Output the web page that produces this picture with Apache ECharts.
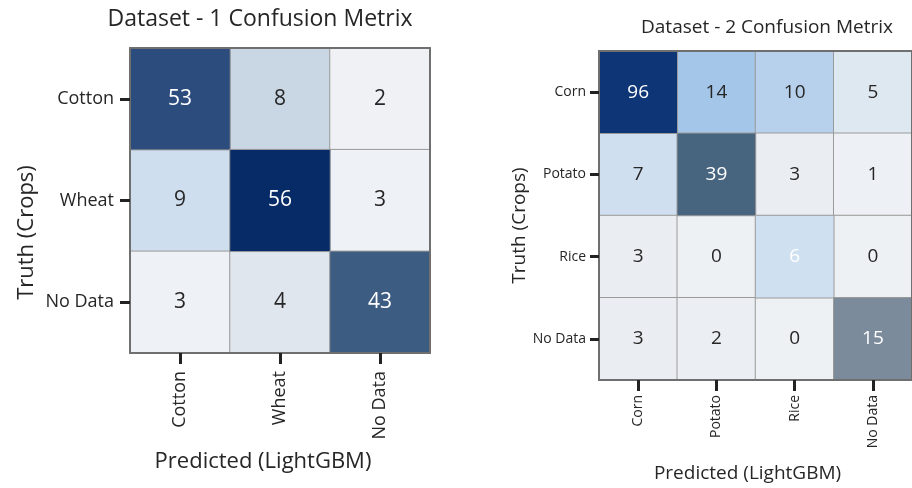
<!DOCTYPE html>
<html>
<head>
<meta charset="utf-8">
<script src="https://cdn.jsdelivr.net/npm/echarts@6/dist/echarts.min.js"></script>
<style>
  html, body { margin: 0; padding: 0; background: #fff; }
  #chart { width: 912px; height: 488px; }
</style>
</head>
<body>
<div id="chart"></div>
<script>
// Dataset 1: cotton / wheat classification
const classes1 = ['Cotton', 'Wheat', 'No Data'];
const matrix1 = [
  [53, 8, 2],
  [9, 56, 3],
  [3, 4, 43]
];

// Dataset 2: corn / potato / rice classification
const classes2 = ['Corn', 'Potato', 'Rice', 'No Data'];
const matrix2 = [
  [96, 14, 10, 5],
  [7, 39, 3, 1],
  [3, 0, 6, 0],
  [3, 2, 0, 15]
];

const titles = ['Dataset - 1 Confusion Metrix', 'Dataset - 2 Confusion Metrix'];
const truthName = 'Truth (Crops)';
const predName = 'Predicted (LightGBM)';

const FONT = '"Open Sans", "Noto Sans", sans-serif';
const TXT = '#262626';

// split a matrix into [col, row, value] cells, off-diagonal and diagonal
function cells(m) {
  const off = [], diag = [];
  m.forEach((row, r) => row.forEach((v, c) => (r === c ? diag : off).push([c, r, v])));
  return { off, diag };
}
const c1 = cells(matrix1);
const c2 = cells(matrix2);

function frameAxes(gi, cats, xAxes, yAxes, s) {
  const line = { show: true, lineStyle: { color: '#6f6f6f', width: 2 } };
  xAxes.push({
    type: 'category', gridIndex: gi, data: cats, position: 'bottom', z: 5,
    axisLine: line,
    axisTick: { show: true, alignWithLabel: true, length: s.xTick, lineStyle: { color: '#222', width: 3 } },
    axisLabel: { rotate: 90, fontSize: s.tickFont, margin: s.xMargin, color: TXT, fontFamily: FONT },
    name: predName, nameLocation: 'middle', nameGap: s.xGap,
    nameTextStyle: { fontSize: s.nameFont, color: TXT, fontFamily: FONT, padding: [0, s.xShift, 0, 0] },
    splitLine: { show: false }
  });
  xAxes.push({
    type: 'category', gridIndex: gi, data: cats, position: 'top', z: 5,
    axisLine: line, axisTick: { show: false }, axisLabel: { show: false }, splitLine: { show: false }
  });
  yAxes.push({
    type: 'category', gridIndex: gi, data: cats, inverse: true, position: 'left', z: 5,
    axisLine: line,
    axisTick: { show: true, alignWithLabel: true, length: s.yTick, lineStyle: { color: '#222', width: 3 } },
    axisLabel: { fontSize: s.tickFont, margin: s.yMargin, color: TXT, fontFamily: FONT },
    name: truthName, nameLocation: 'middle', nameGap: s.yGap,
    nameTextStyle: { fontSize: s.nameFont, color: TXT, fontFamily: FONT, padding: [0, s.yShift, 0, 0] },
    splitLine: { show: false }
  });
  yAxes.push({
    type: 'category', gridIndex: gi, data: cats, inverse: true, position: 'right', z: 5,
    axisLine: line, axisTick: { show: false }, axisLabel: { show: false }, splitLine: { show: false }
  });
}

const xAxes = [], yAxes = [];
frameAxes(0, classes1, xAxes, yAxes, {
  tickFont: 18, nameFont: 22, xTick: 11, yTick: 10, xMargin: 18, yMargin: 16,
  xGap: 98, yGap: 92, xShift: 34, yShift: 64
});
frameAxes(1, classes2, xAxes, yAxes, {
  tickFont: 14, nameFont: 19, xTick: 11, yTick: 9, xMargin: 15, yMargin: 13,
  xGap: 84, yGap: 66, xShift: 16, yShift: 20
});

function heat(gi, data, fontSize, color) {
  return {
    type: 'heatmap', xAxisIndex: gi * 2, yAxisIndex: gi * 2, data: data,
    label: { show: true, fontSize: fontSize, color: color, fontFamily: FONT },
    itemStyle: { borderColor: '#9a9a9a', borderWidth: 1 },
    emphasis: { disabled: true }
  };
}

const option = {
  backgroundColor: '#fff',
  animation: false,
  title: [
    { text: titles[0], left: 255, top: 3, textAlign: 'center',
      textStyle: { fontSize: 23, fontWeight: 'normal', color: TXT, fontFamily: FONT } },
    { text: titles[1], left: 762, top: 13, textAlign: 'center',
      textStyle: { fontSize: 19, fontWeight: 'normal', color: TXT, fontFamily: FONT } }
  ],
  grid: [
    { left: 130, top: 48, width: 300, height: 305 },
    { left: 599, top: 51, width: 326, height: 331 }
  ],
  xAxis: xAxes,
  yAxis: yAxes,
  visualMap: [
    { type: 'continuous', show: false, seriesIndex: 0, min: 2, max: 9, dimension: 2,
      inRange: { color: ['#eff1f4', '#eef1f5', '#e0e6ee', '#dbe3ed', '#d5e0ec', '#d0dcea', '#c9d6e4', '#cfdeee'] } },
    { type: 'piecewise', show: false, seriesIndex: 1, dimension: 2,
      pieces: [
        { lt: 50, color: '#3d5c82' },
        { gte: 50, lt: 55, color: '#2c4c7e' },
        { gte: 55, color: '#062b67' }
      ] },
    { type: 'continuous', show: false, seriesIndex: 2, min: 0, max: 14, dimension: 2,
      inRange: { color: ['#eef1f4', '#e9eef3', '#cfdfef', '#b3cfeb', '#a4c6e8'] } },
    { type: 'piecewise', show: false, seriesIndex: 3, dimension: 2,
      pieces: [
        { lt: 10, color: '#cfe0f0' },
        { gte: 10, lt: 25, color: '#7b8b9b' },
        { gte: 25, lt: 60, color: '#486580' },
        { gte: 60, color: '#0e3576' }
      ] }
  ],
  series: [
    heat(0, c1.off, 21, TXT),
    heat(0, c1.diag, 21, '#fff'),
    heat(1, c2.off, 19, TXT),
    heat(1, c2.diag, 19, '#fff')
  ]
};

const chart = echarts.init(document.getElementById('chart'), null, { renderer: 'canvas' });
chart.setOption(option);
</script>
</body>
</html>
